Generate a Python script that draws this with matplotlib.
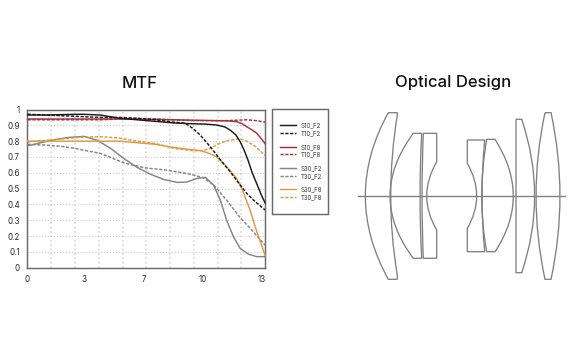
import matplotlib
matplotlib.use("Agg")
import matplotlib.pyplot as plt
from matplotlib.path import Path
from matplotlib.patches import PathPatch, Rectangle

# image height (mm) and MTF values
s10_f2_x = [0, 1, 2, 3, 4, 5, 6, 7, 8, 9, 9.7, 10.36, 10.8, 11.09, 11.4, 11.64, 11.85, 12.07, 12.3, 12.55, 12.8, 13]
s10_f2_y = [.965, .965, .968, .97, .965, .945, .935, .925, .915, .91, .908, .902, .89, .87, .84, .797, .745, .68, .60, .53, .46, .41]
t10_f2_x = [0, 1, 2, 3, 4, 5, 6, 7, 8, 8.64, 9.05, 9.45, 10, 10.64, 11.09, 11.64, 12, 12.36, 12.7, 13]
t10_f2_y = [.97, .965, .96, .955, .95, .95, .945, .935, .92, .913, .88, .839, .765, .67, .607, .523, .47, .428, .395, .365]
s10_f8_x = [0, 2, 4, 6, 8, 10, 11, 11.45, 11.75, 12, 12.3, 12.55, 12.8, 13]
s10_f8_y = [.94, .94, .94, .94, .935, .93, .928, .923, .91, .891, .87, .85, .815, .785]
t10_f8_x = [0, 2, 4, 5, 7, 9, 10, 11, 12, 12.5, 13]
t10_f8_y = [.935, .935, .935, .94, .94, .93, .93, .93, .935, .93, .92]
s30_f2_x = [0, .55, 1.27, 2.2, 3.1, 3.8, 4.55, 5.27, 6, 6.7, 7.45, 8.2, 8.7, 9.27, 9.73, 10.18, 10.55, 10.9, 11.27, 11.64, 12.1, 12.55, 13]
s30_f2_y = [.77, .785, .805, .823, .83, .806, .754, .69, .634, .592, .558, .539, .541, .564, .571, .523, .428, .30, .196, .122, .085, .07, .07]
t30_f2_x = [0, 1, 2, 2.6, 4, 5.27, 6.36, 7.6, 8.7, 9.6, 10.2, 10.9, 11.6, 12.36, 13]
t30_f2_y = [.78, .775, .765, .754, .722, .663, .632, .617, .596, .57, .522, .427, .322, .227, .143]
s30_f8_x = [0, 1, 2, 3, 4, 5, 6, 7, 8, 9, 9.5, 10, 10.36, 10.9, 11.45, 11.73, 12.18, 12.55, 13]
s30_f8_y = [.80, .80, .80, .80, .80, .80, .79, .78, .76, .745, .74, .72, .70, .638, .564, .50, .365, .228, .08]
t30_f8_x = [0, 1, 2, 3, 4, 5, 6, 7, 8, 9, 9.6, 10, 10.5, 11, 11.6, 12, 12.5, 13]
t30_f8_y = [.795, .805, .815, .825, .828, .82, .80, .785, .755, .74, .74, .755, .785, .805, .815, .80, .765, .71]

x_tick_pos = [-0.05, 3.1, 6.35, 9.6, 12.8]
x_tick_labels = ["0", "3", "7", "10", "13"]
y_ticks = [0, .1, .2, .3, .4, .5, .6, .7, .8, .9, 1]
y_tick_labels = ["0", "0.1", "0.2", "0.3", "0.4", "0.5", "0.6", "0.7", "0.8", "0.9", "1"]

BLACK = "#1a1a1a"
RED = "#a5303a"
GRAY = "#858585"
ORANGE = "#dd9c42"
EDGE = "#6a6a6a"

# name, x, y, colour, dashed
series = [
    ("S30_F2", s30_f2_x, s30_f2_y, GRAY, False),
    ("T30_F2", t30_f2_x, t30_f2_y, GRAY, True),
    ("S30_F8", s30_f8_x, s30_f8_y, ORANGE, False),
    ("T30_F8", t30_f8_x, t30_f8_y, ORANGE, True),
    ("S10_F8", s10_f8_x, s10_f8_y, RED, False),
    ("T10_F8", t10_f8_x, t10_f8_y, RED, True),
    ("S10_F2", s10_f2_x, s10_f2_y, BLACK, False),
    ("T10_F2", t10_f2_x, t10_f2_y, BLACK, True),
]

# legend rows: label, colour, dashed, row y in pixels
legend_rows = [
    ("S10_F2", BLACK, False, 125), ("T10_F2", BLACK, True, 133),
    ("S10_F8", RED, False, 147), ("T10_F8", RED, True, 154),
    ("S30_F2", GRAY, False, 168), ("T30_F2", GRAY, True, 176),
    ("S30_F8", ORANGE, False, 189), ("T30_F8", ORANGE, True, 197),
]

# lens outlines in pixels: start point, then line (x, y) or curve via (mx, my, x, y)
lens_1 = [(388.3, 112.7), (397.3, 112.7), (397.3, 115), (390.7, 196, 397.3, 275), (397.3, 279.3), (388.3, 279.3), (365.3, 196, 388.3, 112.7)]
lens_2 = [(413.3, 133.3), (421.7, 133.3), (420, 196, 421.7, 258.3), (413.3, 258.3), (390, 196, 413.3, 133.3)]
lens_3 = [(423.3, 133.3), (436.7, 133.3), (436.7, 161.7), (426.7, 196, 436.7, 230), (436.7, 258.3), (423.3, 258.3), (422, 196, 423.3, 133.3)]
lens_4 = [(467.3, 140), (484.7, 140), (482, 196, 484.7, 251.7), (467.3, 251.7), (467.3, 228.3), (476.7, 196, 467.3, 163.3), (467.3, 140)]
lens_5 = [(486.7, 139.3), (495, 139.3), (513.3, 196, 495, 251.7), (486.7, 251.7), (481.7, 196, 486.7, 139.3)]
lens_6 = [(516, 119.3), (521.7, 119.3), (534.7, 196, 521.7, 272.7), (516, 272.7), (516, 119.3)]
lens_7 = [(545, 112.7), (551, 112.7), (560, 196, 551, 279.3), (545, 279.3), (536, 196, 545, 112.7)]
lenses = [lens_1, lens_2, lens_3, lens_4, lens_5, lens_6, lens_7]


def lens_path(outline):
    verts = [outline[0]]
    codes = [Path.MOVETO]
    for seg in outline[1:]:
        if len(seg) == 2:
            verts.append(seg)
            codes.append(Path.LINETO)
        else:
            mx, my, x, y = seg
            x0, y0 = verts[-1]
            verts.append((2 * mx - (x0 + x) / 2, 2 * my - (y0 + y) / 2))
            verts.append((x, y))
            codes += [Path.CURVE3, Path.CURVE3]
    return Path(verts, codes)


def main():
    W, H = 573, 353
    plt.rcParams["font.family"] = ["Inter", "DejaVu Sans"]
    fig = plt.figure(figsize=(W / 100, H / 100), dpi=100)

    ax = fig.add_axes([26.7 / W, (H - 267.7) / H, 238.3 / W, 158.2 / H])
    for name, x, y, color, dashed in series:
        ax.plot(x, y, color=color, lw=1.05, linestyle=(0, (2.2, 1.1)) if dashed else "-", label=name, zorder=3, clip_on=False)
    ax.set_xlim(0, 13)
    ax.set_ylim(0, 1)
    ax.set_xticks([1.3 * i for i in range(1, 10)], minor=True)
    ax.set_xticks(x_tick_pos, x_tick_labels)
    ax.set_yticks(y_ticks, y_tick_labels)
    ax.tick_params(axis="both", which="both", length=0, labelsize=5.8, colors="#2a2a2a")
    ax.tick_params(axis="x", pad=5)
    ax.tick_params(axis="y", pad=5)
    ax.grid(True, axis="y", color="#cccccc", linestyle=":", lw=0.8)
    ax.grid(True, axis="x", which="minor", color="#d8d8d8", linestyle=":", lw=1.2)
    ax.grid(False, axis="x", which="major")
    for spine in ax.spines.values():
        spine.set_color(EDGE)
        spine.set_linewidth(1.05)

    # overlay in pixel coordinates for the legend box, lens drawing and titles
    over = fig.add_axes([0, 0, 1, 1])
    over.set_xlim(0, W)
    over.set_ylim(H, 0)
    over.axis("off")
    over.patch.set_alpha(0)

    over.text(140, 84, "MTF", ha="center", va="center", fontsize=12, fontweight="medium", color="#111111")
    over.text(453.5, 82, "Optical Design", ha="center", va="center", fontsize=12, fontweight="medium", color="#111111")

    over.add_patch(Rectangle((272, 109), 55.5, 105, fill=False, edgecolor=EDGE, lw=1.05))
    for label, color, dashed, y in legend_rows:
        over.plot([280, 296], [y, y], color=color, lw=1.05, linestyle=(0, (2.2, 1.1)) if dashed else "-")
        over.text(301, y, label, ha="left", va="center", fontsize=4.4, color="#333333")

    for outline in lenses:
        over.add_patch(PathPatch(lens_path(outline), fill=False, edgecolor="#808080", lw=0.95))
    over.plot([358, 565], [196, 196], color="#808080", lw=1.0)

    fig.savefig("out.png", dpi=100)
    plt.close(fig)


if __name__ == "__main__":
    main()
